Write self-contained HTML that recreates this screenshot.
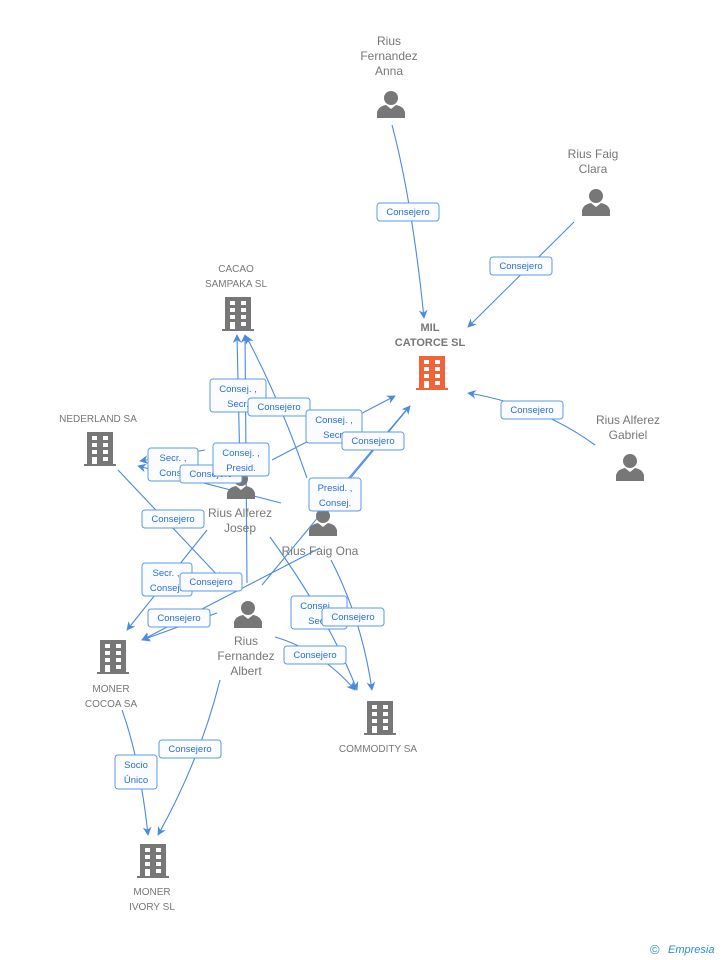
<!DOCTYPE html>
<html><head><meta charset="utf-8"><style>
html,body{margin:0;padding:0;background:#fff;}
svg{display:block;font-family:"Liberation Sans",sans-serif;}
.n{font-size:12px;fill:#777;text-anchor:middle;}
.l{font-size:9.5px;fill:#2a6fd6;text-anchor:middle;}
.e{stroke:#4a8ae0;stroke-width:1.1;fill:none;}
.b{fill:#fafcff;stroke:#5b9be6;stroke-width:1;}
</style></head><body>
<svg width="728" height="960" viewBox="0 0 728 960" xmlns="http://www.w3.org/2000/svg">
<defs>
<marker id="a" viewBox="0 0 10 10" refX="9" refY="5" markerWidth="8" markerHeight="8" orient="auto"><path d="M0,0 L10,5 L0,10 L3,5 z" fill="#4a8ae0"/></marker>
<symbol id="bld" viewBox="0 0 32 34"><rect x="3" y="0" width="26" height="32" fill="currentColor"/><rect x="0" y="32" width="32" height="2" fill="currentColor"/>
<g fill="#fff"><rect x="8" y="4" width="5" height="4"/><rect x="19" y="4" width="5" height="4"/><rect x="8" y="11" width="5" height="4"/><rect x="19" y="11" width="5" height="4"/><rect x="8" y="18" width="5" height="4"/><rect x="19" y="18" width="5" height="4"/><rect x="8" y="25" width="5" height="7"/><rect x="19" y="25" width="5" height="4"/></g></symbol>
<symbol id="per" viewBox="0 0 28 28"><circle cx="14" cy="8" r="7" fill="#777"/><path d="M0,28 L0,22 Q2,16 9,15 L14,19 L19,15 Q26,16 28,22 L28,28 z" fill="#777"/></symbol>
</defs>

<path class="e" d="M392,125 Q412,200 424,318" marker-end="url(#a)"/>
<path class="e" d="M574,222 L468,327" marker-end="url(#a)"/>
<path class="e" d="M595,445 Q540,405 468,393" marker-end="url(#a)"/>
<path class="e" d="M240,470 L237,335" marker-end="url(#a)"/>
<path class="e" d="M247,583 L245,335" marker-end="url(#a)"/>
<path class="e" d="M307,478 Q280,400 246,336" marker-end="url(#a)"/>
<path class="e" d="M272,460 L395,396" marker-end="url(#a)"/>
<path class="e" d="M262,585 L410,406" marker-end="url(#a)"/>
<path class="e" d="M336,493 L408,408"/>
<path class="e" d="M281,503 L138,466" marker-end="url(#a)"/>
<path class="e" d="M205,450 L140,461" marker-end="url(#a)"/>
<path class="e" d="M118,470 L222,580" marker-end="url(#a)"/>
<path class="e" d="M207,530 L127,630" marker-end="url(#a)"/>
<path class="e" d="M320,548 L142,640" marker-end="url(#a)"/>
<path class="e" d="M217,613 L142,640" marker-end="url(#a)"/>
<path class="e" d="M270,537 Q330,620 357,690" marker-end="url(#a)"/>
<path class="e" d="M331,560 Q362,620 372,690" marker-end="url(#a)"/>
<path class="e" d="M275,637 Q320,650 355,690" marker-end="url(#a)"/>
<path class="e" d="M122,710 Q140,760 148,835" marker-end="url(#a)"/>
<path class="e" d="M220,680 Q200,760 158,835" marker-end="url(#a)"/>

<text class="n" x="389" y="45">Rius</text><text class="n" x="389" y="60">Fernandez</text><text class="n" x="389" y="75">Anna</text>
<use href="#per" x="377" y="90" width="28" height="28"/>
<text class="n" x="593" y="158">Rius Faig</text><text class="n" x="593" y="173">Clara</text>
<use href="#per" x="582" y="188" width="28" height="28"/>
<text class="n" x="430" y="331" style="font-weight:bold;font-size:11px">MIL</text><text class="n" x="430" y="346" style="font-weight:bold;font-size:11px">CATORCE SL</text>
<use href="#bld" x="416" y="356" width="32" height="34" style="color:#f0643a"/>
<text class="n" x="628" y="424">Rius Alferez</text><text class="n" x="628" y="439">Gabriel</text>
<use href="#per" x="616" y="453" width="28" height="28"/>
<text class="n" x="236" y="272" style="font-size:10px">CACAO</text><text class="n" x="236" y="287" style="font-size:10px">SAMPAKA SL</text>
<use href="#bld" x="222" y="297" width="32" height="34" style="color:#777"/>
<text class="n" x="98" y="422" style="font-size:10px">NEDERLAND SA</text>
<use href="#bld" x="84" y="432" width="32" height="34" style="color:#777"/>
<use href="#per" x="227" y="471" width="28" height="28"/>
<text class="n" x="240" y="517">Rius Alferez</text><text class="n" x="240" y="532">Josep</text>
<use href="#per" x="309" y="508" width="28" height="28"/>
<text class="n" x="320" y="555">Rius Faig Ona</text>
<use href="#per" x="234" y="600" width="28" height="28"/>
<text class="n" x="246" y="645">Rius</text><text class="n" x="246" y="660">Fernandez</text><text class="n" x="246" y="675">Albert</text>
<use href="#bld" x="97" y="640" width="32" height="34" style="color:#777"/>
<text class="n" x="111" y="692" style="font-size:10px">MONER</text><text class="n" x="111" y="707" style="font-size:10px">COCOA SA</text>
<use href="#bld" x="364" y="701" width="32" height="34" style="color:#777"/>
<text class="n" x="378" y="752" style="font-size:10px">COMMODITY SA</text>
<use href="#bld" x="137" y="844" width="32" height="34" style="color:#777"/>
<text class="n" x="152" y="895" style="font-size:10px">MONER</text><text class="n" x="152" y="910" style="font-size:10px">IVORY SL</text>

<g>
<rect class="b" x="377" y="203" width="62" height="18" rx="3"/><text class="l" x="408" y="215">Consejero</text>
<rect class="b" x="490" y="257" width="62" height="18" rx="3"/><text class="l" x="521" y="269">Consejero</text>
<rect class="b" x="501" y="401" width="62" height="18" rx="3"/><text class="l" x="532" y="413">Consejero</text>
<rect class="b" x="210" y="379" width="56" height="33" rx="3"/><text class="l" x="238" y="392">Consej. ,</text><text class="l" x="238" y="407">Secr.</text>
<rect class="b" x="248" y="398" width="62" height="18" rx="3"/><text class="l" x="279" y="410">Consejero</text>
<rect class="b" x="306" y="410" width="56" height="33" rx="3"/><text class="l" x="334" y="423">Consej. ,</text><text class="l" x="334" y="438">Secr.</text>
<rect class="b" x="342" y="432" width="62" height="18" rx="3"/><text class="l" x="373" y="444">Consejero</text>
<rect class="b" x="148" y="448" width="50" height="33" rx="3"/><text class="l" x="173" y="461">Secr. ,</text><text class="l" x="173" y="476">Conse</text>
<rect class="b" x="180" y="465" width="62" height="18" rx="3"/><text class="l" x="211" y="477">Consejero</text>
<rect class="b" x="213" y="443" width="56" height="33" rx="3"/><text class="l" x="241" y="456">Consej. ,</text><text class="l" x="241" y="471">Presid.</text>
<rect class="b" x="309" y="478" width="52" height="33" rx="3"/><text class="l" x="335" y="491">Presid. ,</text><text class="l" x="335" y="506">Consej.</text>
<rect class="b" x="142" y="510" width="62" height="18" rx="3"/><text class="l" x="173" y="522">Consejero</text>
<rect class="b" x="142" y="563" width="50" height="33" rx="3"/><text class="l" x="166" y="576">Secr. ,</text><text class="l" x="166" y="591">Consej.</text>
<rect class="b" x="180" y="573" width="62" height="18" rx="3"/><text class="l" x="211" y="585">Consejero</text>
<rect class="b" x="148" y="609" width="62" height="18" rx="3"/><text class="l" x="179" y="621">Consejero</text>
<rect class="b" x="291" y="596" width="56" height="33" rx="3"/><text class="l" x="319" y="609">Consej. ,</text><text class="l" x="319" y="624">Secr.</text>
<rect class="b" x="322" y="608" width="62" height="18" rx="3"/><text class="l" x="353" y="620">Consejero</text>
<rect class="b" x="284" y="646" width="62" height="18" rx="3"/><text class="l" x="315" y="658">Consejero</text>
<rect class="b" x="159" y="740" width="62" height="18" rx="3"/><text class="l" x="190" y="752">Consejero</text>
<rect class="b" x="115" y="755" width="42" height="34" rx="3"/><text class="l" x="136" y="768">Socio</text><text class="l" x="136" y="783">Único</text>
</g>
<text x="650" y="954" style="font-size:13px;fill:#2a8fd6">©</text>
<text x="668" y="953" style="font-size:11px;fill:#2a8fd6;font-style:italic">Empresia</text>
</svg>
</body></html>
